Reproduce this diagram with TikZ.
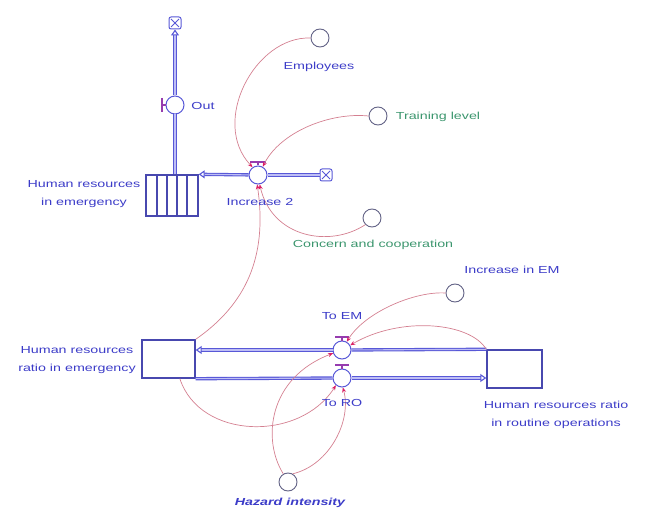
\documentclass[tikz,border=0pt]{standalone}
\usepackage{fontspec}
\setmainfont[FakeStretch=1.4]{Liberation Sans}
\usetikzlibrary{arrows.meta}

\definecolor{pipeblue}{RGB}{88,88,215}
\definecolor{pipelight}{RGB}{190,190,245}
\definecolor{stockblue}{RGB}{72,72,175}
\definecolor{textblue}{RGB}{60,60,200}
\definecolor{textgreen}{RGB}{60,150,110}
\definecolor{connpink}{RGB}{212,128,145}
\definecolor{tipred}{RGB}{220,30,100}
\definecolor{auxgray}{RGB}{100,100,135}
\definecolor{handlecol}{RGB}{150,60,175}

\tikzset{
  lbl/.style={text=textblue, font=\fontsize{10.2}{18}\selectfont, inner sep=0pt, align=center},
  glbl/.style={lbl, text=textgreen},
  aux/.style={circle, draw=auxgray, line width=0.9pt, minimum size=18pt, inner sep=0pt, fill=white},
  valve/.style={circle, draw=pipeblue, line width=1pt, minimum size=18pt, inner sep=0pt, fill=white},
  stockbox/.style={draw=stockblue, line width=1.4pt, inner sep=0pt, fill=white},
  pipe/.style={draw=pipeblue, line width=1.1pt, double=pipelight, double distance=1.1pt},
  flowtip/.style={-{Triangle[open, length=6pt, width=8pt]}},
  conn/.style={draw=connpink, line width=0.7pt, -{Stealth[length=5pt, width=4pt, color=tipred]}},
  cloudbox/.style={draw=pipeblue, line width=1pt, rounded corners=2pt, minimum size=12pt,
    inner sep=0pt, fill=white,
    path picture={\draw[pipeblue, line width=0.8pt]
      ([shift={(2pt,2pt)}]path picture bounding box.south west) -- ([shift={(-2pt,-2pt)}]path picture bounding box.north east)
      ([shift={(2pt,-2pt)}]path picture bounding box.north west) -- ([shift={(-2pt,2pt)}]path picture bounding box.south east);}},
  handle/.style={draw=handlecol, line width=1.3pt},
}

\begin{document}
\begin{tikzpicture}[x=1pt, y=-1pt]
\useasboundingbox (0,0) rectangle (646,524);

% ---- stocks ----
\node[stockbox, minimum width=52pt, minimum height=41pt] (sEmerg) at (172,195.5) {};
\foreach \x in {157,167,177,187}
  \draw[stockblue, line width=1.1pt] (\x,175) -- (\x,216);
\node[stockbox, minimum width=53pt, minimum height=38pt] (sRatioEM) at (168.5,359) {};
\node[stockbox, minimum width=55pt, minimum height=38pt] (sRoutine) at (514.5,369) {};

% ---- clouds ----
\node[cloudbox] (cTop) at (175,23) {};
\node[cloudbox] (cRight) at (326,175) {};

% ---- valves ----
\node[valve] (vOut) at (175,105) {};
\node[valve] (vInc) at (258,175) {};
\node[valve] (vEM)  at (342,350) {};
\node[valve] (vRO)  at (342,378) {};

% valve handles
\draw[handle] (vOut.west) -- ++(-5,0);
\draw[handle] (162,98) -- (162,112);
\draw[handle] (vInc.north) -- ++(0,-4);
\draw[handle] (250,162) -- (266,162);
\draw[handle] (vEM.north) -- ++(0,-4);
\draw[handle] (335,337) -- (349,337);
\draw[handle] (vRO.north) -- ++(0,-4);
\draw[handle] (335,365) -- (349,365);

% ---- auxiliaries ----
\node[aux] (emp)     at (320,38)  {};
\node[aux] (train)   at (378,116) {};
\node[aux] (concern) at (372,218) {};
\node[aux] (incEM)   at (455,293) {};
\node[aux] (hazard)  at (288,482) {};

% ---- flows ----
\draw[pipe] (sEmerg.north -| vOut) -- (vOut);
\draw[pipe, flowtip] (vOut) -- (cTop);
\draw[pipe] (cRight) -- (vInc);
\draw[pipe, flowtip] (vInc) -- (sEmerg.north east);
\draw[pipe] (sRoutine.north west) -- (vEM);
\draw[pipe, flowtip] (vEM) -- (sRatioEM.east |- vEM);
\draw[pipe] (sRatioEM.south east) -- (vRO);
\draw[pipe, flowtip] (vRO) -- (sRoutine.west |- vRO);

% ---- connectors ----
\draw[conn] (emp.west) .. controls (255,36) and (210,122) .. (vInc.125);
\draw[conn] (train.west) .. controls (330,112) and (280,132) .. (vInc.60);
\draw[conn] (concern.225) .. controls (330,248) and (272,238) .. (vInc.-80);
\draw[conn] (sRatioEM.north east) .. controls (245,305) and (268,258) .. (vInc.-95);
\draw[conn] (incEM.west) .. controls (415,291) and (365,312) .. (vEM.60);
\draw[conn] (sRoutine.north west) .. controls (470,322) and (400,316) .. (vEM.30);
\draw[conn] (sRatioEM.-60) .. controls (200,440) and (300,442) .. (vRO.-130);
\draw[conn] (hazard.120) .. controls (262,440) and (268,378) .. (vEM.-160);
\draw[conn] (hazard.60) .. controls (330,465) and (352,420) .. (vRO.-85);

% ---- labels ----
\node[lbl] at (84,194) {Human resources\\in emergency};
\node[lbl] at (203,106) {Out};
\node[lbl] at (260,202) {Increase 2};
\node[lbl] at (319,67) {Employees};
\node[glbl] at (438,117) {Training level};
\node[glbl] at (373,245) {Concern and cooperation};
\node[lbl] at (512,270) {Increase in EM};
\node[lbl] at (342,316) {To EM};
\node[lbl] at (342,403) {To RO};
\node[lbl] at (77,360) {Human resources\\ratio in emergency};
\node[lbl] at (556,415) {Human resources ratio\\in routine operations};
\node[lbl, font=\fontsize{10.2}{18}\selectfont\bfseries\itshape] at (290,503) {Hazard intensity};
\end{tikzpicture}
\end{document}
